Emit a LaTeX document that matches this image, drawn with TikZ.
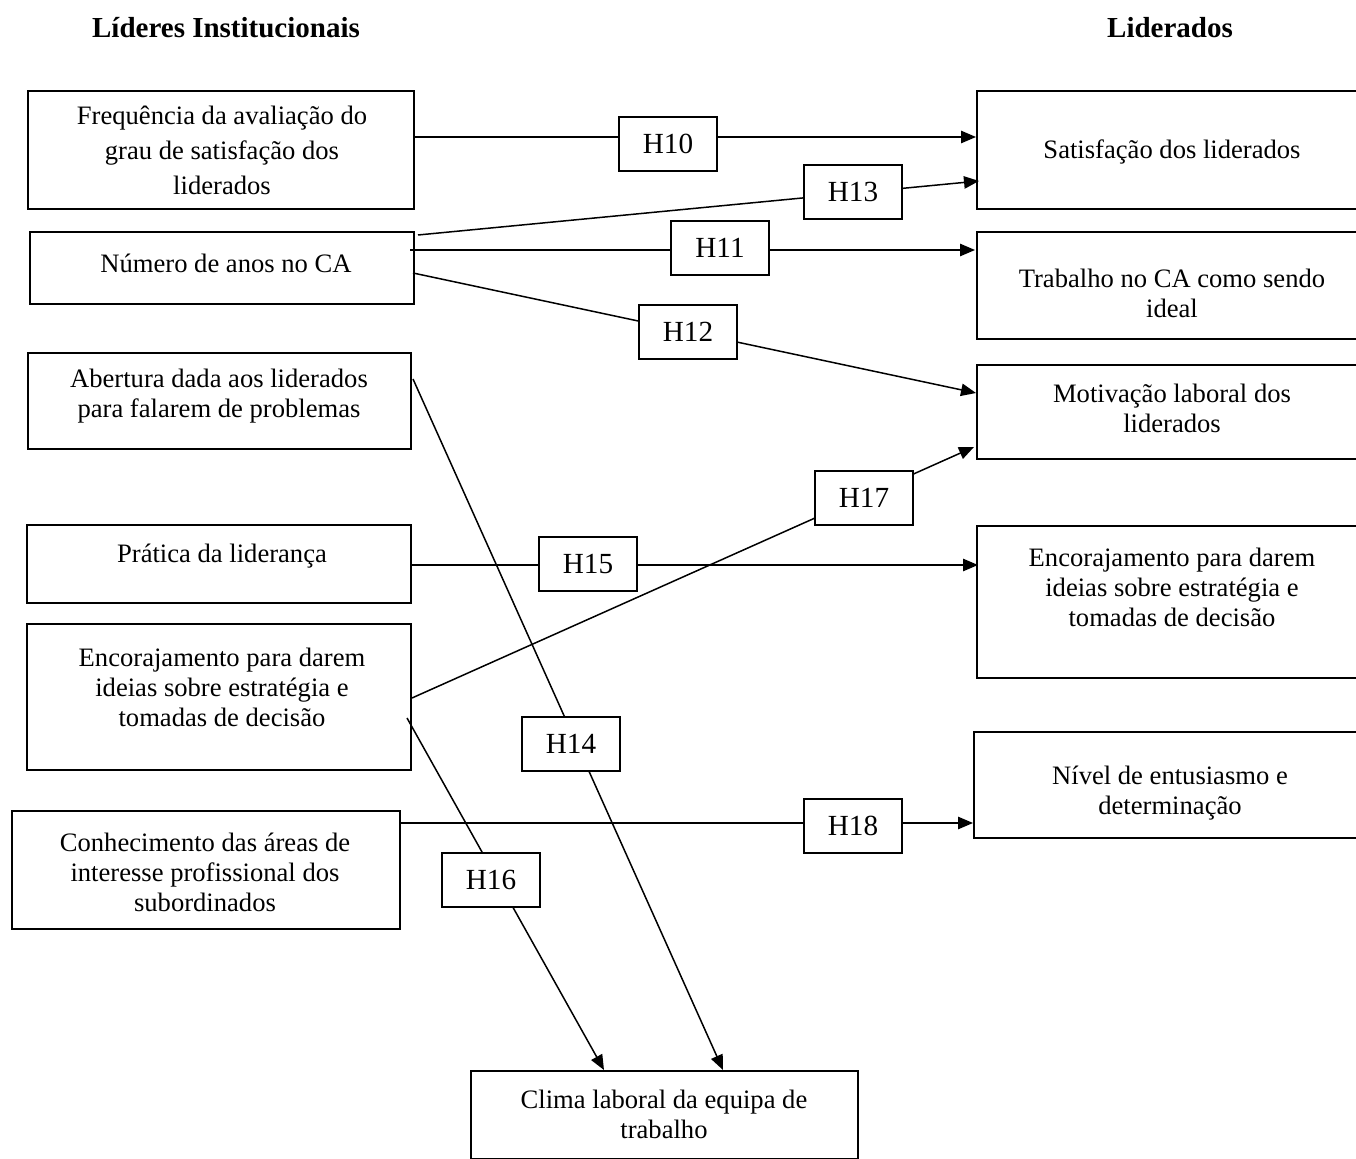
\documentclass[tikz,border=0pt]{standalone}
\usepackage{fontspec}
\setmainfont{Liberation Serif}
\usetikzlibrary{arrows.meta,calc}
% rectangle given by its top-left and bottom-right corners (in picture units)
\newcommand\mkbox[5]{\node[box,anchor=north west,minimum width={(#4-#2)*0.5pt},minimum height={(#5-#3)*0.5pt}] (#1) at (#2,#3) {};}
\begin{document}
\begin{tikzpicture}[x=0.5pt,y=-0.5pt,
  box/.style={draw,line width=0.85pt,inner sep=0pt},
  txt/.style={align=center,font=\fontsize{13.3}{15}\selectfont,inner sep=0pt},
  hyp/.style={draw,line width=0.85pt,fill=white,minimum width=49pt,minimum height=27pt,
              inner sep=0pt,font=\fontsize{14.6}{16}\selectfont},
  conn/.style={line width=0.75pt},
  arr/.style={conn,-{Triangle[length=7.5pt,width=6.2pt]}},
  title/.style={font=\bfseries\fontsize{14.5}{16}\selectfont,inner sep=0pt}]
\useasboundingbox (0,0) rectangle (1356,1159);
\clip (0,0) rectangle (1356,1159);

% column headings
\node[title] (tl) at (226,28) {Líderes Institucionais};
\node[title] (tr) at (1170,28) {Liderados};

% left column: leaders
\mkbox{b1}{27}{90}{413}{208}
\mkbox{b2}{29}{231}{413}{303}
\mkbox{b3}{27}{352}{410}{448}
\mkbox{b4}{26}{524}{410}{602}
\mkbox{b5}{26}{623}{410}{769}
\mkbox{b6}{11}{810}{399}{928}
\node[txt,font=\fontsize{13.3}{17.5}\selectfont] (b1t) at (222,150) {Frequência da avaliação do\\grau de satisfação dos\\liderados};
\node[txt] (b2t) at (226,263) {Número de anos no CA};
\node[txt] (b3t) at (219,396) {Abertura dada aos liderados\\para falarem de problemas};
\node[txt] (b4t) at (222,556) {Prática da liderança};
\node[txt] (b5t) at (222,687) {Encorajamento para darem\\ideias sobre estratégia e\\tomadas de decisão};
\node[txt] (b6t) at (205,872) {Conhecimento das áreas de\\interesse profissional dos\\subordinados};

% right column: followers
\mkbox{r1}{976}{90}{1362}{208}
\mkbox{r2}{976}{231}{1362}{338}
\mkbox{r3}{976}{364}{1362}{458}
\mkbox{r4}{976}{525}{1362}{677}
\mkbox{r5}{973}{731}{1362}{837}
\node[txt] (r1t) at (1172,152) {Satisfação dos liderados};
\node[txt] (r2t) at (1172,293) {Trabalho no CA como sendo\\ideal};
\node[txt] (r3t) at (1172,408) {Motivação laboral dos\\liderados};
\node[txt] (r4t) at (1172,587) {Encorajamento para darem\\ideias sobre estratégia e\\tomadas de decisão};
\node[txt] (r5t) at (1170,793) {Nível de entusiasmo e\\determinação};

% bottom: team climate
\mkbox{cl}{470}{1070}{857}{1158}
\node[txt] (clt) at (664,1114) {Clima laboral da equipa de\\trabalho};

% connector end points
\coordinate (s10) at (413,137);  \coordinate (e10) at (976,137);
\coordinate (s13) at (418,235);  \coordinate (e13) at (979,181);
\coordinate (s11) at (410,250);  \coordinate (e11) at (975,250);
\coordinate (s12) at (413,273);  \coordinate (e12) at (976,393);
\coordinate (s14) at (413,379);  \coordinate (e14) at (723,1070);
\coordinate (s15) at (410,565);  \coordinate (e15) at (978,565);
\coordinate (s17) at (412,698);  \coordinate (e17) at (974,447);
\coordinate (s16) at (407,718);  \coordinate (e16) at (604,1070);
\coordinate (s18) at (399,823);  \coordinate (e18) at (973,823);

\draw[arr] (s10) -- (e10);
\draw[arr] (s13) -- (e13);
\draw[arr] (s11) -- (e11);
\draw[arr] (s12) -- (e12);
\draw[arr] (s14) -- (e14);
\draw[arr] (s15) -- (e15);
\draw[arr] (s17) -- (e17);
\draw[arr] (s16) -- (e16);
\draw[arr] (s18) -- (e18);

% hypothesis labels sitting on the connectors
\node[hyp] (h10) at (668,144) {H10};
\node[hyp] (h13) at (853,192) {H13};
\node[hyp] (h11) at (720,248) {H11};
\node[hyp] (h12) at (688,332) {H12};
\node[hyp] (h17) at (864,498) {H17};
\node[hyp] (h15) at (588,564) {H15};
\node[hyp] (h14) at (571,744) {H14};
\node[hyp] (h18) at (853,826) {H18};
\node[hyp] (h16) at (491,880) {H16};
\end{tikzpicture}
\end{document}
